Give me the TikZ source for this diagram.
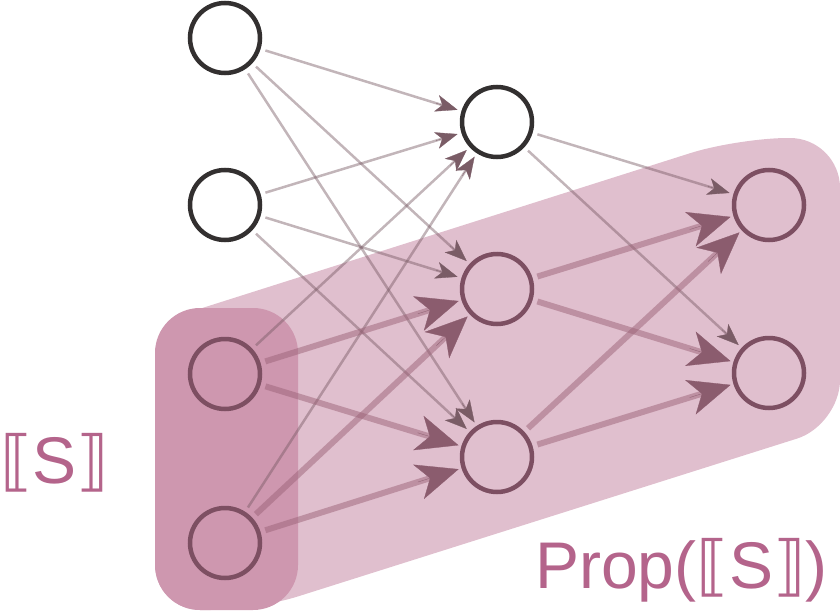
\documentclass[tikz,border=0pt]{standalone}
\usepackage{fontspec}
\setmainfont{Liberation Sans}
\newfontfamily\brk{DejaVu Sans}
\usetikzlibrary{arrows.meta,calc}
\definecolor{lightbg}{RGB}{224,191,206}
\definecolor{darkbg}{RGB}{206,151,175}
\definecolor{ringpink}{RGB}{125,79,98}
\definecolor{ringdark}{RGB}{51,48,48}
\definecolor{thinc}{RGB}{120,90,100}
\definecolor{thickc}{RGB}{156,99,120}
\definecolor{tipthinc}{RGB}{122,92,102}
\definecolor{tipthickc}{RGB}{139,92,110}
\definecolor{txtc}{RGB}{180,100,139}
\newcommand\thinedge[2]{\draw[thinline] (#1) -- (#2);}
\newcommand\thickedge[2]{\draw[thickline] (#1) -- (#2);}
\newcommand\thintipto[2]{\draw[thintip] ($(#2)!64pt!(#1)$) -- (#2);}
\newcommand\thicktipto[2]{\draw[thicktip] ($(#2)!83pt!(#1)$) -- (#2);}
\begin{document}
\begin{tikzpicture}[x=1pt,y=-1pt,
 neuron/.style={circle,minimum size=70pt,inner sep=0pt,outer sep=2.25pt,line width=4.5pt},
 wnode/.style={neuron,draw=ringdark,fill=white},
 pnode/.style={neuron,draw=ringpink},
 thinline/.style={draw=thinc,draw opacity=0.45,line width=2.5pt,shorten <=5pt,shorten >=15pt},
 thickline/.style={draw=thickc,draw opacity=0.5,line width=6pt,shorten <=5pt,shorten >=24pt},
 thintip/.style={draw=tipthinc,line width=0.3pt,shorten >=4pt,-{Stealth[length=22pt,width=17pt,inset=6pt,color=tipthinc]}},
 thicktip/.style={draw=tipthickc,line width=0.3pt,shorten >=3pt,-{Stealth[length=42pt,width=36pt,inset=12pt,color=tipthickc]}},
 lbl/.style={text=txtc,inner sep=0pt,font=\fontsize{66}{70}\selectfont}
]
\useasboundingbox (0,0) rectangle (840,610);
% backgrounds
\fill[lightbg] (155,470) [rounded corners=32pt] -- (155,323) [rounded corners=50pt] -- (738,138) -- (840,138) [rounded corners=45pt] -- (840,425) -- (255,610) -- (155,610) -- cycle;
\fill[darkbg, rounded corners=45pt] (155,308) rectangle (298,610);
% nodes
\node[wnode] (A1) at (225,38) {};
\node[wnode] (A2) at (225,205) {};
\node[pnode] (A3) at (225,374) {};
\node[pnode] (A4) at (225,543) {};
\node[wnode] (B1) at (497,122) {};
\node[pnode] (B2) at (497,289) {};
\node[pnode] (B3) at (497,457) {};
\node[pnode] (C1) at (769,205) {};
\node[pnode] (C2) at (769,373) {};
% lines
\thinedge{A1}{B1}\thinedge{A1}{B2}\thinedge{A1}{B3}
\thinedge{A2}{B1}\thinedge{A2}{B2}\thinedge{A2}{B3}
\thinedge{A3}{B1}\thinedge{A4}{B1}
\thinedge{B1}{C1}\thinedge{B1}{C2}
\thickedge{A3}{B2}\thickedge{A3}{B3}\thickedge{A4}{B2}\thickedge{A4}{B3}
\thickedge{B2}{C1}\thickedge{B2}{C2}\thickedge{B3}{C1}\thickedge{B3}{C2}
% tips
\thintipto{A1}{B1}\thintipto{A1}{B2}\thintipto{A1}{B3}
\thintipto{A2}{B1}\thintipto{A2}{B2}\thintipto{A2}{B3}
\thintipto{A3}{B1}\thintipto{A4}{B1}
\thintipto{B1}{C1}\thintipto{B1}{C2}
\thicktipto{A3}{B2}\thicktipto{A3}{B3}\thicktipto{A4}{B2}\thicktipto{A4}{B3}
\thicktipto{B2}{C1}\thicktipto{B2}{C2}\thicktipto{B3}{C1}\thicktipto{B3}{C2}
% labels
\node[lbl, anchor=base west] (S) at (0,483) {{\brk ⟦}S{\brk ⟧}};
\node[lbl, anchor=base west] (P) at (535,588) {Prop({\brk ⟦}S{\brk ⟧})};
\end{tikzpicture}
\end{document}
